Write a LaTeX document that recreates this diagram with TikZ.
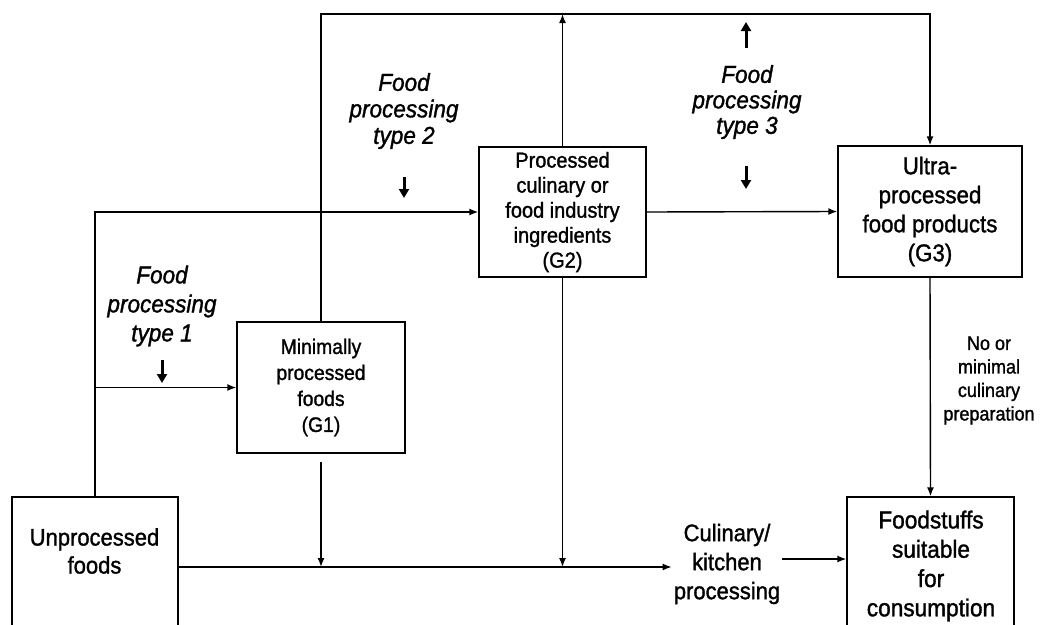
\documentclass[tikz,border=0pt]{standalone}
\usepackage{fontspec}
\setmainfont{Liberation Sans}[FakeStretch=0.92, FakeBold=1.3]
\usetikzlibrary{arrows.meta}
\begin{document}
\begin{tikzpicture}[x=1pt,y=-1pt,
  box/.style={draw, line width=1.4pt, rectangle, inner sep=0pt, align=center},
  txt/.style={align=center, inner sep=2pt},
  lbl/.style={align=center, inner sep=2pt},
  conn/.style={line width=1.4pt, -{Latex[length=9pt,width=7pt]}},
  bigarrow/.style={line width=3pt, -{Triangle[length=9pt,width=10pt]}},
]
\useasboundingbox (0,0) rectangle (1041,624);

% boxes
\node[box, minimum width=166pt, minimum height=150pt] (unp) at (95,572) {};
\node[txt, font=\fontsize{23.9}{28}\selectfont] (unpt) at (94.5,551) {Unprocessed\\foods};

\node[box, minimum width=168pt, minimum height=131pt,
      font=\fontsize{21}{26}\selectfont] (g1) at (321,387.5)
      {Minimally\\processed\\foods\\(G1)};

\node[box, minimum width=167pt, minimum height=130pt,
      font=\fontsize{21.7}{25}\selectfont] (g2) at (562.5,212)
      {Processed\\culinary or\\food industry\\ingredients\\(G2)};

\node[box, minimum width=184pt, minimum height=131pt,
      font=\fontsize{24.2}{29}\selectfont] (g3) at (930,211.5)
      {Ultra-\\processed\\food products\\(G3)};

\node[box, minimum width=167pt, minimum height=150pt] (food) at (930.5,572) {};
\node[txt, font=\fontsize{24.6}{29.3}\selectfont] (foodt) at (931,566)
      {Foodstuffs\\suitable\\for\\consumption};

\node[txt, font=\fontsize{23.9}{29}\selectfont] (cul) at (727,564)
      {Culinary/\\kitchen\\processing};

\node[txt, font=\fontsize{19.6}{23.5}\selectfont] (nomin) at (989,380.5)
      {No or\\minimal\\culinary\\preparation};

% italic labels
\node[lbl, font=\fontsize{24.5}{29}\selectfont\itshape] (t1) at (162,306) {Food\\processing\\type 1};
\node[lbl, font=\fontsize{24.5}{26.5}\selectfont\itshape] (t2) at (404,111) {Food\\processing\\type 2};
\node[lbl, font=\fontsize{24.5}{25.5}\selectfont\itshape] (t3) at (747,102) {Food\\processing\\type 3};

% helper coordinates
\coordinate (topy) at (0,14);
\coordinate (boty) at (0,567);
\coordinate (cuy) at (0,559);
\coordinate (g1s) at (321,462);

% connectors
\draw[conn] (unp.north) |- (g2.west);
\draw[conn] (unp.north |- g1.west) -- (g1.west);
\draw[conn] (g1.north) |- (topy -| g3.north) -- (g3.north);
\draw[conn] (g2.north) -- (g2.north |- topy);
\draw[conn] (g2.east) -- (g3.west);
\draw[conn] (g1s) -- (g1s |- boty);
\draw[conn] (g2.south) -- (g2.south |- boty);
\draw[conn] (unp.east |- boty) -- (cul.west |- boty);
\draw[conn] (cul.east |- cuy) -- (food.west |- cuy);
\draw[conn] (g3.south) -- (food.north);

% thick arrows
\coordinate (a1s) at (162,360); \coordinate (a1e) at (162,383);
\coordinate (a2s) at (404,177); \coordinate (a2e) at (404,198);
\coordinate (a3s) at (746,48);  \coordinate (a3e) at (746,22);
\coordinate (a4s) at (746,166); \coordinate (a4e) at (746,189);
\draw[bigarrow] (a1s) -- (a1e);
\draw[bigarrow] (a2s) -- (a2e);
\draw[bigarrow] (a3s) -- (a3e);
\draw[bigarrow] (a4s) -- (a4e);
\end{tikzpicture}
\end{document}
